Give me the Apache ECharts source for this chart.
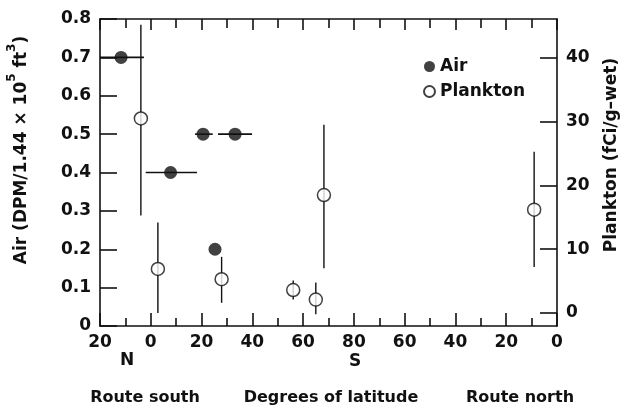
<!DOCTYPE html>
<html>
<head>
<meta charset="utf-8">
<script src="https://cdn.jsdelivr.net/npm/echarts@6/dist/echarts.min.js"></script>
<style>html,body{margin:0;padding:0;background:#fff}#c{width:634px;height:414px}</style>
</head>
<body>
<div id="c"></div>
<script>
// Position along the cruise track (0 = 20N, 20 = equator, 100 = 80S, 180 = equator on route north)
const xTickLabels = ['20','0','20','40','60','80','60','40','20','0'];
const leftTickLabels = ['0','0.1','0.2','0.3','0.4','0.5','0.6','0.7','0.8'];
const rightTickValues = [0, 10, 20, 30, 40];

// Air (DPM / 1.44e5 ft3)
const airPos = [8.3, 27.8, 40.6, 53.2, 45.3];
const airVal = [0.70, 0.40, 0.50, 0.50, 0.20];
const airLo  = [0, 18.0, 37.4, 46.5, 45.3];
const airHi  = [17.3, 38.2, 44.4, 59.9, 45.3];

// Plankton (fCi/g-wet)
const plPos = [16.1, 22.8, 47.9, 76.1, 85.0, 88.2, 171.0];
const plVal = [30.5, 6.9, 5.3, 3.6, 2.1, 18.5, 16.2];
const plLo  = [15.3, 0.0, 1.6, 2.1, -0.2, 7.0, 7.2];
const plHi  = [45.2, 14.2, 8.8, 5.1, 4.8, 29.5, 25.3];

const FONT = 'DejaVu Sans';
const ink = '#111';
const chart = echarts.init(document.getElementById('c'), null, {renderer: 'canvas'});

const lineStyle = {color: ink, width: 1.6};
const tickStyle = {color: ink, width: 1.6};

chart.setOption({
  animation: false,
  backgroundColor: '#fff',
  grid: {left: 100, right: 77, top: 19, bottom: 88},
  legend: {
    data: ['Air', 'Plankton'],
    orient: 'vertical',
    left: 418, top: 53,
    icon: 'circle',
    itemWidth: 11, itemHeight: 11, itemGap: 8,
    textStyle: {fontFamily: FONT, fontWeight: 'bold', fontSize: 17, color: ink}
  },
  xAxis: [{
    type: 'value', min: 0, max: 180, interval: 20, position: 'bottom',
    axisLine: {show: true, onZero: false, lineStyle: lineStyle},
    axisTick: {show: true, inside: true, length: 13, lineStyle: tickStyle},
    minorTick: {show: true, splitNumber: 2, length: 8, lineStyle: tickStyle},
    splitLine: {show: false},
    axisLabel: {
      margin: 8, fontFamily: FONT, fontWeight: 'bold', fontSize: 17, color: ink,
      formatter: v => xTickLabels[Math.round(v / 20)]
    }
  }, {
    type: 'value', min: 0, max: 180, interval: 20, position: 'top',
    axisLine: {show: true, onZero: false, lineStyle: lineStyle},
    axisTick: {show: true, inside: true, length: 11, lineStyle: tickStyle},
    minorTick: {show: true, splitNumber: 2, length: 9, lineStyle: tickStyle},
    splitLine: {show: false},
    axisLabel: {show: false}
  }],
  yAxis: [{
    type: 'value', min: 0, max: 0.8, interval: 0.1, position: 'left',
    axisLine: {show: true, onZero: false, lineStyle: lineStyle},
    axisTick: {show: true, inside: true, length: 17, lineStyle: tickStyle},
    splitLine: {show: false},
    axisLabel: {
      margin: 9, fontFamily: FONT, fontWeight: 'bold', fontSize: 17, color: ink,
      formatter: v => leftTickLabels[Math.round(v * 10)]
    }
  }, {
    type: 'value', min: -2.04, max: 46.1, position: 'right',
    axisLine: {show: true, onZero: false, lineStyle: lineStyle},
    axisTick: {show: true, inside: true, length: 17, customValues: rightTickValues, lineStyle: tickStyle},
    splitLine: {show: false},
    axisLabel: {
      margin: 9, fontFamily: FONT, fontWeight: 'bold', fontSize: 17, color: ink,
      customValues: rightTickValues
    }
  }],
  graphic: [
    {type: 'text', x: 18, y: 150, rotation: Math.PI / 2,
      style: {
        text: '{a|Air (DPM/1.44 × 10}{s|5}{a| ft}{s|3}{a|)}',
        align: 'center', verticalAlign: 'middle',
        rich: {
          a: {fontFamily: FONT, fontWeight: 'bold', fontSize: 17, fill: ink, verticalAlign: 'bottom', lineHeight: 24},
          s: {fontFamily: FONT, fontWeight: 'bold', fontSize: 12, fill: ink, verticalAlign: 'top', lineHeight: 24}
        }
      }},
    {type: 'text', x: 612, y: 155, rotation: Math.PI / 2,
      style: {text: 'Plankton (fCi/g–wet)', align: 'center', verticalAlign: 'middle',
        fontFamily: FONT, fontWeight: 'bold', fontSize: 17, fill: ink}},
    {type: 'text', x: 127, y: 361,
      style: {text: 'N', align: 'center', verticalAlign: 'middle', fontFamily: FONT, fontWeight: 'bold', fontSize: 17, fill: ink}},
    {type: 'text', x: 355, y: 362,
      style: {text: 'S', align: 'center', verticalAlign: 'middle', fontFamily: FONT, fontWeight: 'bold', fontSize: 17, fill: ink}},
    {type: 'text', x: 145, y: 398,
      style: {text: 'Route south', align: 'center', verticalAlign: 'middle', fontFamily: FONT, fontWeight: 'bold', fontSize: 16, fill: ink}},
    {type: 'text', x: 331, y: 398,
      style: {text: 'Degrees of latitude', align: 'center', verticalAlign: 'middle', fontFamily: FONT, fontWeight: 'bold', fontSize: 16, fill: ink}},
    {type: 'text', x: 520, y: 398,
      style: {text: 'Route north', align: 'center', verticalAlign: 'middle', fontFamily: FONT, fontWeight: 'bold', fontSize: 16, fill: ink}}
  ],
  series: [
    {
      type: 'custom', name: 'airErr', xAxisIndex: 0, yAxisIndex: 0, clip: false, z: 1,
      encode: {x: 0, y: 1},
      data: airPos.map((p, i) => [p, airVal[i], airLo[i], airHi[i]]),
      renderItem: (params, api) => {
        const a = api.coord([api.value(2), api.value(1)]);
        const b = api.coord([api.value(3), api.value(1)]);
        return {type: 'line', shape: {x1: a[0], y1: a[1], x2: b[0], y2: b[1]}, style: {stroke: ink, lineWidth: 1.6}};
      }
    },
    {
      type: 'custom', name: 'plErr', xAxisIndex: 0, yAxisIndex: 1, clip: false, z: 1,
      encode: {x: 0, y: 1},
      data: plPos.map((p, i) => [p, plVal[i], plLo[i], plHi[i]]),
      renderItem: (params, api) => {
        const a = api.coord([api.value(0), api.value(2)]);
        const b = api.coord([api.value(0), api.value(3)]);
        return {type: 'line', shape: {x1: a[0], y1: a[1], x2: b[0], y2: b[1]}, style: {stroke: ink, lineWidth: 1.4}};
      }
    },
    {
      type: 'scatter', name: 'Air', xAxisIndex: 0, yAxisIndex: 0, z: 3,
      symbol: 'circle', symbolSize: 13,
      itemStyle: {color: ink},
      data: airPos.map((p, i) => [p, airVal[i]])
    },
    {
      type: 'scatter', name: 'Plankton', xAxisIndex: 0, yAxisIndex: 1, z: 3,
      symbol: 'circle', symbolSize: 13,
      itemStyle: {color: '#fff', borderColor: ink, borderWidth: 1.5},
      data: plPos.map((p, i) => [p, plVal[i]])
    }
  ]
});
</script>
</body>
</html>
